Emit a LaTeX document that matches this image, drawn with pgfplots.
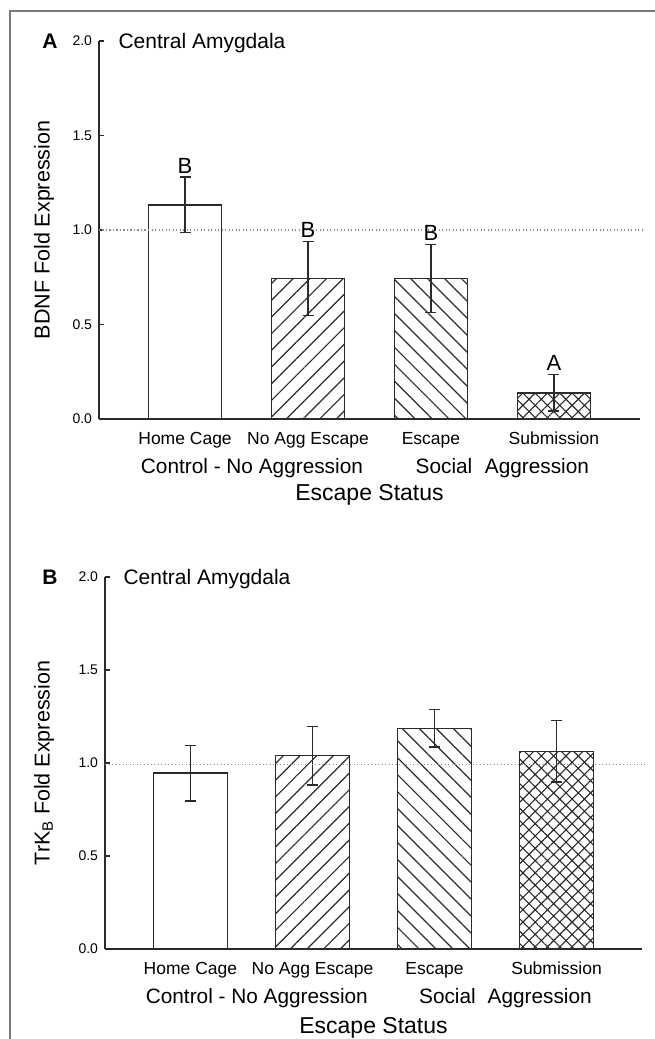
\documentclass[border=0pt]{standalone}
\usepackage{fontspec}
\setmainfont{Liberation Sans}
\usepackage{pgfplots}
\pgfplotsset{compat=1.18}
\usetikzlibrary{patterns.meta}
\definecolor{ink}{HTML}{2B2B2B}
\definecolor{framegray}{HTML}{7A7A7A}
\definecolor{dotgray}{HTML}{8C8C8C}
\newcommand{\fs}[1]{\fontsize{#1}{#1}\selectfont}

\tikzset{
  sig/.style={anchor=base, font=\fs{22}, yshift=4pt},
  grp/.style={anchor=base, font=\fs{20.8}, yshift=-54.5pt},
  plab/.style={anchor=base, font={\fs{21}\bfseries}, yshift=-7.5pt},
}
\pgfplotsset{
  panel/.style={
    scale only axis, xmin=0.3, xmax=4.7, ymin=0, ymax=2,
    axis x line=bottom, axis y line=left,
    axis line style={-, line width=1.5pt, color=ink},
    xtick={1,2,3,4},
    xticklabels={Home Cage, No Agg Escape, Escape, Submission},
    xtick style={draw=none},
    xticklabel style={anchor=base, yshift=-25.3pt, font=\fs{17.5}},
    ytick={0,0.5,1,1.5,2},
    tick align=inside, major tick length=5pt,
    ytick style={line width=1.3pt, color=ink},
    yticklabel style={font=\fs{14}, xshift=-3.5pt,
      /pgf/number format/fixed, /pgf/number format/fixed zerofill,
      /pgf/number format/precision=1},
    /pgf/number format/assume math mode=true,
    ylabel style={font=\fs{21.5}, anchor=center},
    clip=false,
  },
  bar/.style={ybar, bar width=73.5pt, draw=ink, line width=1.3pt, fill=white,
    error bars/y dir=both, error bars/y explicit,
    error bars/error bar style={line width=1.3pt, color=ink},
    error bars/error mark options={rotate=90, mark size=5.5pt, line width=1.3pt, color=ink}},
  ref/.style={dotgray, line width=1.1pt, dash pattern=on 1.1pt off 2.4pt},
}

\begin{document}
\begin{tikzpicture}
\path[use as bounding box] (0pt,0pt) rectangle (654pt,-1039pt);
\fill[white] (0pt,0pt) rectangle (654pt,-1039pt);
\draw[framegray, line width=1.5pt] (10pt,-1045pt) -- (10pt,-11pt) -- (660pt,-11pt);

% ---------- Panel A ----------
\begin{axis}[panel, at={(99pt,-419pt)}, anchor=south west,
  width=541pt, height=378pt,
  ylabel={BDNF Fold Expression},
  ylabel style={at={(axis description cs:-0.1017,0.5)}}]
\addplot[bar] coordinates {(1,1.132) += (0,0.148) -= (0,0.146)};
\addplot[bar, pattern={Lines[angle=45,distance=11.8pt,line width=1.2pt]}, pattern color=ink]
  coordinates {(2,0.743) += (0,0.196) -= (0,0.196)};
\addplot[bar, pattern={Lines[angle=-45,distance=12pt,line width=1.2pt]}, pattern color=ink]
  coordinates {(3,0.745) += (0,0.178) -= (0,0.183)};
\addplot[bar, pattern={Hatch[angle=45,distance=8.7pt,line width=1.1pt]}, pattern color=ink]
  coordinates {(4,0.137) += (0,0.098) -= (0,0.095)};
\addplot[ref] coordinates {(0.3,1) (4.72,1)};
\node[sig] at (axis cs:1,1.280) {B};
\node[sig] at (axis cs:2,0.939) {B};
\node[sig] at (axis cs:3,0.923) {B};
\node[sig] at (axis cs:4,0.235) {A};
\node[grp] at (axis cs:1.544,0) {Control - No Aggression};
\node[grp] at (axis cs:3.106,0) {Social};
\node[grp] at (axis cs:3.862,0) {Aggression};
\node[anchor=base, font=\fs{23}, yshift=-81pt] at (axis cs:2.5,0) {Escape Status};
\node[anchor=base west, font=\fs{21}, xshift=16pt, yshift=-7.5pt] at (axis cs:0.3,2) {Central Amygdala};
\node[plab, xshift=-49pt] at (axis cs:0.3,2) {A};
\end{axis}

% ---------- Panel B ----------
\begin{axis}[panel, at={(105pt,-949pt)}, anchor=south west,
  width=537pt, height=372pt,
  ylabel={TrK\textsubscript{B} Fold Expression},
  ylabel style={at={(axis description cs:-0.1136,0.5)}}]
\addplot[bar] coordinates {(1,0.946) += (0,0.149) -= (0,0.150)};
\addplot[bar, pattern={Lines[angle=45,distance=11.8pt,line width=1.2pt]}, pattern color=ink]
  coordinates {(2,1.039) += (0,0.158) -= (0,0.157)};
\addplot[bar, pattern={Lines[angle=-45,distance=12pt,line width=1.2pt]}, pattern color=ink]
  coordinates {(3,1.186) += (0,0.101) -= (0,0.100)};
\addplot[bar, pattern={Hatch[angle=45,distance=8.7pt,line width=1.1pt]}, pattern color=ink]
  coordinates {(4,1.062) += (0,0.165) -= (0,0.164)};
\addplot[ref] coordinates {(0.3,0.99) (4.72,0.99)};
\node[grp] at (axis cs:1.544,0) {Control - No Aggression};
\node[grp] at (axis cs:3.106,0) {Social};
\node[grp] at (axis cs:3.862,0) {Aggression};
\node[anchor=base, font=\fs{23}, yshift=-84pt] at (axis cs:2.5,0) {Escape Status};
\node[anchor=base west, font=\fs{21}, xshift=15pt, yshift=-7.5pt] at (axis cs:0.3,2) {Central Amygdala};
\node[plab, xshift=-55pt] at (axis cs:0.3,2) {B};
\end{axis}
\end{tikzpicture}
\end{document}
